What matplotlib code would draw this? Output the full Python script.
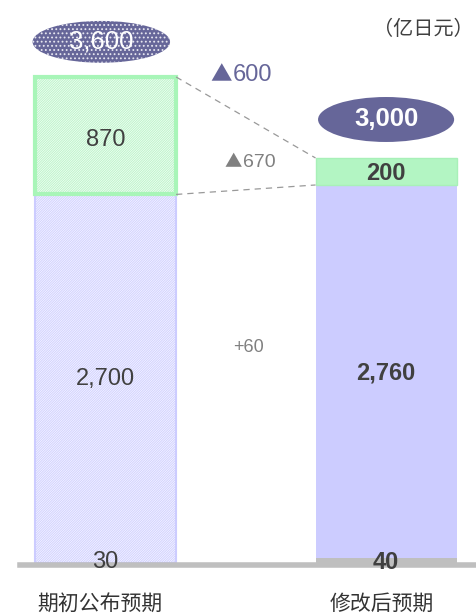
import matplotlib
matplotlib.use("Agg")
import matplotlib.pyplot as plt
from matplotlib.patches import Ellipse

plt.rcParams['font.family'] = ['Liberation Sans', 'Noto Sans CJK SC', 'DejaVu Sans']
plt.rcParams['hatch.linewidth'] = 0.8

categories = ['期初公布预期', '修改后预期']
base = [30, 40]          # gray bottom
middle = [2700, 2760]    # lavender
top = [870, 200]         # green
totals = [3600, 3000]
diff_total = '600'
diff_top = '670'
diff_mid = '+60'
unit = '（亿日元）'

purple = '#666699'
lav = '#ccccff'
green = '#b3f5c3'
gray = '#bfbfbf'
txt = '#404040'

fig = plt.figure(figsize=(4.77, 6.13), dpi=100)
ax = fig.add_axes([0, 0, 1, 1])
ax.set_xlim(-0.376, 1.324)
ax.set_ylim(-370, 4170)
ax.axis('off')

w = 0.503
x = [0, 1]

# left bar: white with diagonal hatch, separate outline
h = '/' * 14
ax.bar(x[0], base[0] + middle[0], w, bottom=0, color='white', edgecolor='#d2d2ff', hatch=h, linewidth=0)
ax.bar(x[0], base[0] + middle[0], w, bottom=0, fill=False, edgecolor=lav, linewidth=1.5)
ax.bar(x[0], top[0], w, bottom=base[0] + middle[0], color='white', edgecolor='#bff5cc', hatch=h, linewidth=0)
ax.bar(x[0], top[0], w, bottom=base[0] + middle[0], fill=False, edgecolor='#a8f5b8', linewidth=3)

# right bar: solid
ax.bar(x[1], base[1], w, bottom=0, color=gray, linewidth=0)
ax.bar(x[1], middle[1], w, bottom=base[1], color=lav, linewidth=0)
ax.bar(x[1], top[1], w, bottom=base[1] + middle[1], color=green, edgecolor='#a8f0b8', linewidth=1)

# baseline
ax.axhline(-15, xmin=0.042, xmax=1.0, color=gray, linewidth=4, zorder=1)

# connectors
l_edge = x[0] + w / 2
r_edge = x[1] - w / 2
ax.plot([l_edge, r_edge], [totals[0], totals[1]], ls=(0, (5, 4)), color='#999999', lw=0.9)
ax.plot([l_edge, r_edge], [base[0] + middle[0], base[1] + middle[1]], ls=(0, (5, 4)),
        color='#999999', lw=0.9)

# value labels
ax.text(x[0], base[0] + middle[0] + top[0] / 2 - 30, f'{top[0]:,}', ha='center', va='center',
        fontsize=17, color=txt)
ax.text(x[0], base[0] + middle[0] / 2 - 15, f'{middle[0]:,}', ha='center', va='center',
        fontsize=17, color=txt)
ax.text(x[0], 5, f'{base[0]:,}', ha='center', va='center', fontsize=17, color=txt)
ax.text(x[1], base[1] + middle[1] + top[1] / 2 - 15, f'{top[1]:,}', ha='center', va='center',
        fontsize=17, color=txt, fontweight='bold')
ax.text(x[1], base[1] + middle[1] / 2 - 15, f'{middle[1]:,}', ha='center', va='center',
        fontsize=17, color=txt, fontweight='bold')
ax.text(x[1], 5, f'{base[1]:,}', ha='center', va='center', fontsize=17, color=txt,
        fontweight='bold')

# total ellipses
e1 = Ellipse((x[0] - 0.015, 3860), 0.49, 310, facecolor=purple, edgecolor='#e6e6f0',
             hatch='....', linewidth=0)
ax.add_patch(e1)
ax.text(x[0] - 0.015, 3860, f'{totals[0]:,}', ha='center', va='center',
        fontsize=18.5, color='white')
e2 = Ellipse((x[1], 3285), 0.485, 333, facecolor=purple, linewidth=0)
ax.add_patch(e2)
ax.text(x[1], 3285, f'{totals[1]:,}', ha='center', va='center',
        fontsize=18.5, color='white', fontweight='bold')


def delta(xp, yp, num, size, tri, col):
    # triangle glyph from the CJK font, number in the latin font
    ax.text(xp, yp, '▲', ha='right', va='center', fontsize=tri, color=col,
            family=['Noto Sans CJK SC'])
    ax.text(xp + 0.004, yp, num, ha='left', va='center', fontsize=size, color=col)


delta(0.451, 3615, diff_total, 17, 15.5, purple)
delta(0.487, 2970, diff_top, 14, 12.5, '#808080')
ax.text(0.511, 1595, diff_mid, ha='center', va='center', fontsize=13, color='#808080')

# unit
ax.text(1.131, 3950, unit, ha='center', va='center', fontsize=14.5, color=txt)

# category labels
for xi, c in zip([-0.02, 0.985], categories):
    ax.text(xi, -300, c, ha='center', va='center', fontsize=15, color='#333333')

fig.savefig('out.png', dpi=100)
